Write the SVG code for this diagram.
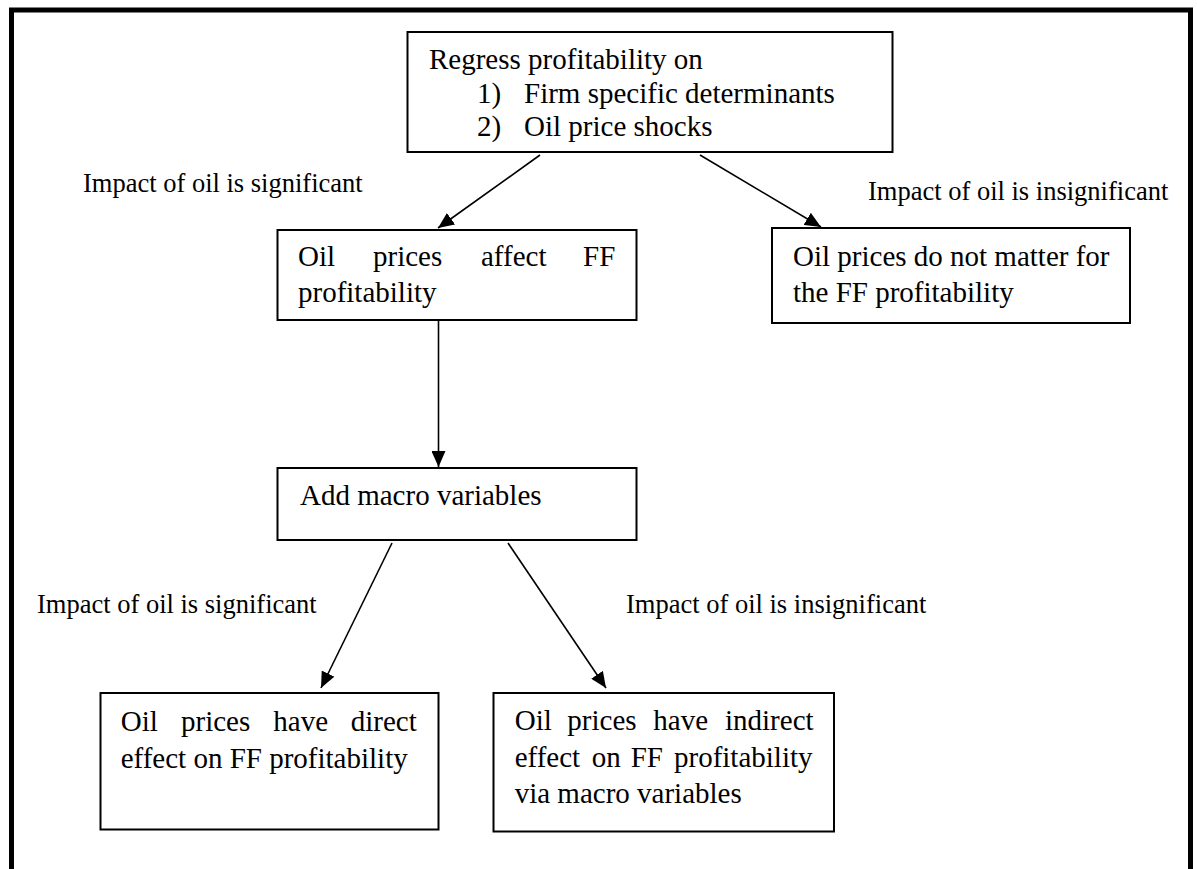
<svg xmlns="http://www.w3.org/2000/svg" width="1197" height="869" viewBox="0 0 1197 869">
<style>
.box{fill:#fff;stroke:#000;stroke-width:2}
.t{font-family:"Liberation Serif","Times New Roman",serif;font-size:29px;fill:#000}
.lbl{font-family:"Liberation Serif","Times New Roman",serif;font-size:26.5px;fill:#000}
.conn{stroke:#000;stroke-width:1.6;fill:none;marker-end:url(#ah)}
</style>
<defs>
<marker id="ah" markerUnits="userSpaceOnUse" markerWidth="16" markerHeight="14" refX="16" refY="7" orient="auto">
<path d="M0,0 L16,7 L0,14 z" fill="#000"/>
</marker>
</defs>
<rect width="1197" height="869" fill="#fff"/>
<path id="frame" d="M11.5,869 V10 H1190.5 V869" fill="none" stroke="#000" stroke-width="5"/>
<g id="connectors">
<line class="conn" x1="540" y1="155" x2="438" y2="228"/>
<line class="conn" x1="700" y1="155" x2="821" y2="227"/>
<line class="conn" x1="438.5" y1="321" x2="438.5" y2="467"/>
<line class="conn" x1="392" y1="543" x2="321" y2="688"/>
<line class="conn" x1="508" y1="543" x2="606" y2="688"/>
</g>
<g id="labels">
<text class="lbl" x="83" y="192">Impact of oil is significant</text>
<text class="lbl" x="868" y="200">Impact of oil is insignificant</text>
<text class="lbl" x="37" y="613">Impact of oil is significant</text>
<text class="lbl" x="626" y="613">Impact of oil is insignificant</text>
</g>
<g id="node-regress">
<rect class="box" x="407.5" y="32" width="485" height="120"/>
<text class="t" x="429" y="69">Regress profitability on</text>
<text class="t" x="477" y="102.5">1)</text>
<text class="t" x="524" y="102.5">Firm specific determinants</text>
<text class="t" x="477" y="136">2)</text>
<text class="t" x="524" y="136">Oil price shocks</text>
</g>
<g id="node-affect">
<rect class="box" x="277.5" y="230" width="359" height="90"/>
<text class="t" y="266"><tspan x="298">Oil</tspan><tspan x="373">prices</tspan><tspan x="481">affect</tspan><tspan x="583">FF</tspan></text>
<text class="t" x="298" y="301.7">profitability</text>
</g>
<g id="node-notmatter">
<rect class="box" x="772" y="228" width="358" height="95"/>
<text class="t" x="793" y="265.7">Oil prices do not matter for</text>
<text class="t" x="793" y="301.5">the FF profitability</text>
</g>
<g id="node-macro">
<rect class="box" x="277.5" y="468" width="359" height="72"/>
<text class="t" x="300" y="505">Add macro variables</text>
</g>
<g id="node-direct">
<rect class="box" x="100.5" y="693" width="338" height="136.5"/>
<text class="t" y="730.7"><tspan x="120.7">Oil</tspan><tspan x="181">prices</tspan><tspan x="273.3">have</tspan><tspan x="350.7">direct</tspan></text>
<text class="t" x="120.7" y="767.7">effect on FF profitability</text>
</g>
<g id="node-indirect">
<rect class="box" x="493.5" y="693" width="340.5" height="138.5"/>
<text class="t" y="730"><tspan x="514.7">Oil</tspan><tspan x="567.3">prices</tspan><tspan x="653.3">have</tspan><tspan x="725">indirect</tspan></text>
<text class="t" y="767"><tspan x="514.7">effect</tspan><tspan x="591.7">on</tspan><tspan x="630.7">FF</tspan><tspan x="674">profitability</tspan></text>
<text class="t" x="514.7" y="803.3">via macro variables</text>
</g>
</svg>
